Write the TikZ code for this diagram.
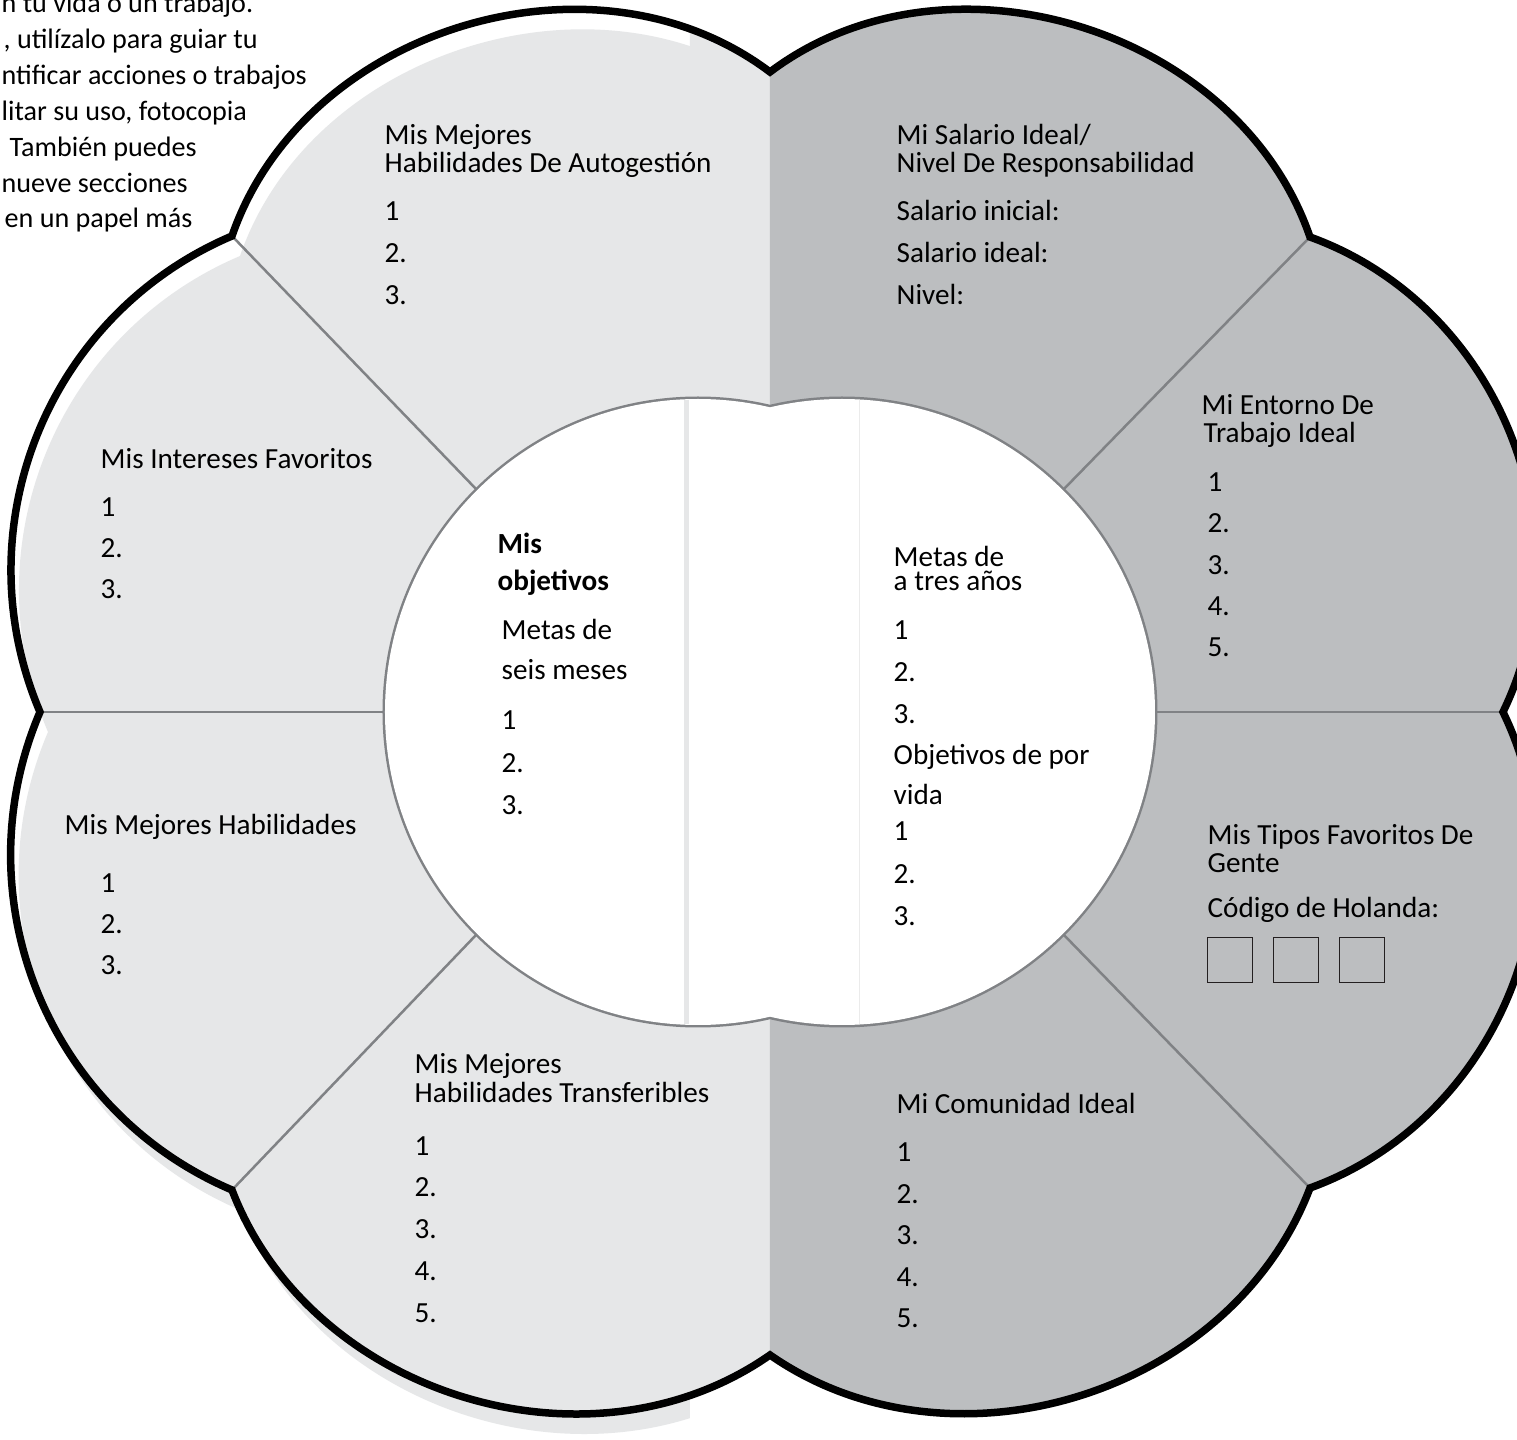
\documentclass[tikz,border=0pt]{standalone}
\usepackage{fontspec}
\setmainfont{Carlito}
\usetikzlibrary{positioning}
\definecolor{leftgray}{HTML}{E6E7E8}
\definecolor{rightgray}{HTML}{BCBEC0}
\definecolor{linegray}{HTML}{808285}
\definecolor{boxline}{HTML}{231F20}
\newcommand{\lsize}[1]{\fontsize{8.3pt}{#1}\selectfont}
\newcommand{\flower}{(c2) to[bend left=54] (c1) to[bend left=48] (c0) to[bend left=48] (c7) to[bend left=52] (c6) to[bend left=52] (c5) to[bend left=45] (c4) to[bend left=45] (c3) to[bend left=54] (c2) -- cycle}
\tikzset{
  rim/.style={line width=0.075cm, line join=miter},
  divider/.style={draw=linegray, line width=0.025cm},
  txt/.style={anchor=base west, inner sep=0pt, align=left, font=\lsize{8pt}},
  items/.style={txt, font=\lsize{11.95pt}},
  hollbox/.style={draw=boxline, line width=0.015cm, minimum size=0.45cm, inner sep=0pt, outer sep=0pt},
}
\begin{document}
\begin{tikzpicture}
      \useasboundingbox (-7.70,-7.28) rectangle (7.47,7.12);
      \clip (-7.70,-7.28) rectangle (7.47,7.12);
      \fill[white] (-7.70,-7.28) rectangle (7.47,7.12);

      % cusps of the flower
      \coordinate (c0) at (7.33,0);
      \coordinate (c1) at (5.40,4.75);
      \coordinate (c2) at (0,6.40);
      \coordinate (c3) at (-5.38,4.76);
      \coordinate (c4) at (-7.30,0);
      \coordinate (c5) at (-5.38,-4.78);
      \coordinate (c6) at (0,-6.43);
      \coordinate (c7) at (5.40,-4.76);
      % where the dividers meet the middle
      \coordinate (q0) at (3.85,0);
      \coordinate (q1) at (2.93,2.22);
      \coordinate (q3) at (-2.93,2.22);
      \coordinate (q4) at (-3.85,0);
      \coordinate (q5) at (-2.93,-2.22);
      \coordinate (q7) at (2.93,-2.22);
      \coordinate (lc) at (-0.72,0);
      \coordinate (rc) at (0.72,0);

      % base anchor = last line, so y is the last baseline
      \node[txt, font=\fontsize{8pt}{10.2pt}\selectfont] (intro) at (-7.69,4.84) {n tu vida o un trabajo.\\\hspace*{0.02cm}, utilízalo para guiar tu\\ntificar acciones o trabajos\\litar su uso, fotocopia\\\hspace*{0.08cm}También puedes\\nueve secciones\\\hspace*{0.03cm}en un papel más};

      % left half, with its shadow
      \begin{scope}
        \clip (-8,-8) rectangle (-0.80,8);
        \begin{scope}[transform canvas={shift={(0.08,-0.20)}}]
          \fill[leftgray] \flower;
        \end{scope}
      \end{scope}
      \begin{scope}
        \clip (-0.80,-8) rectangle (0,8);
        \fill[leftgray] \flower;
      \end{scope}
      \begin{scope}
        \clip (0,-8) rectangle (8,8);
        \fill[rightgray] \flower;
      \end{scope}

      \draw[divider] (c0) -- (q0);
      \draw[divider] (c1) -- (q1);
      \draw[divider] (c3) -- (q3);
      \draw[divider] (c4) -- (q4);
      \draw[divider] (c5) -- (q5);
      \draw[divider] (c7) -- (q7);

      \draw[linegray, line width=0.05cm] (lc) circle (3.13) (rc) circle (3.13);
      \fill[white] (lc) circle (3.13) (rc) circle (3.13);
      \draw[leftgray, line width=0.05cm] (-0.83,3.12) -- (-0.83,-3.12);
      \draw[black!8, line width=0.01cm] (0.90,3.12) -- (0.90,-3.12);

      \draw[rim] \flower;

      \node[txt] (autot) at (-3.86,5.39) {Mis Mejores\\Habilidades De Autogestión};
      \node[items] (autol) at (-3.86,4.07) {1\\2.\\3.};

      \node[txt] (salt) at (1.26,5.39) {Mi Salario Ideal/\\Nivel De Responsabilidad};
      \node[items] (sall) at (1.26,4.07) {Salario inicial:\\Salario ideal:\\Nivel:};

      \node[txt] (entt) at (4.31,2.69) {Mi Entorno De\\\hspace*{0.02cm}Trabajo Ideal};
      \node[items, font=\lsize{11.8pt}] (entl) at (4.37,0.55) {1\\2.\\3.\\4.\\5.};

      \node[txt] (intt) at (-6.70,2.43) {Mis Intereses Favoritos};
      \node[items, font=\lsize{11.8pt}] (intl) at (-6.70,1.13) {1\\2.\\3.};

      \node[txt] (habt) at (-7.06,-1.23) {Mis Mejores Habilidades};
      \node[items, font=\lsize{11.8pt}] (habl) at (-6.70,-2.63) {1\\2.\\3.};

      \node[txt, font=\lsize{8.5pt}] (trat) at (-3.56,-3.91) {Mis Mejores\\Habilidades Transferibles};
      \node[items] (tral) at (-3.56,-6.11) {1\\2.\\3.\\4.\\5.};

      \node[txt] (comt) at (1.26,-4.02) {Mi Comunidad Ideal};
      \node[items, font=\lsize{11.85pt}] (coml) at (1.26,-6.16) {1\\2.\\3.\\4.\\5.};

      \node[txt] (tipt) at (4.37,-1.61) {Mis Tipos Favoritos De\\Gente};
      \node[txt] (hol) at (4.37,-2.06) {Código de Holanda:};
      \node[hollbox] (hb1) at (4.60,-2.48) {};
      \node[hollbox, right=0.21cm of hb1] (hb2) {};
      \node[hollbox, right=0.21cm of hb2] (hb3) {};

      \node[txt, font=\lsize{10.8pt}\bfseries] (objt) at (-2.73,1.21) {Mis\\objetivos};
      \node[txt, font=\lsize{11.4pt}] (seis) at (-2.69,0.32) {Metas de\\seis meses};
      \node[items, font=\lsize{12.1pt}] (seisl) at (-2.69,-1.03) {1\\2.\\3.};

      \node[txt, font=\lsize{7.1pt}] (tres) at (1.23,1.21) {Metas de\\a tres años};
      \node[items] (tresl) at (1.23,-0.12) {1\\2.\\3.};
      \node[txt, font=\lsize{11.4pt}] (vida) at (1.23,-0.93) {Objetivos de por\\vida};
      \node[items, font=\lsize{12.1pt}] (vidal) at (1.23,-2.14) {1\\2.\\3.};
\end{tikzpicture}
\end{document}
